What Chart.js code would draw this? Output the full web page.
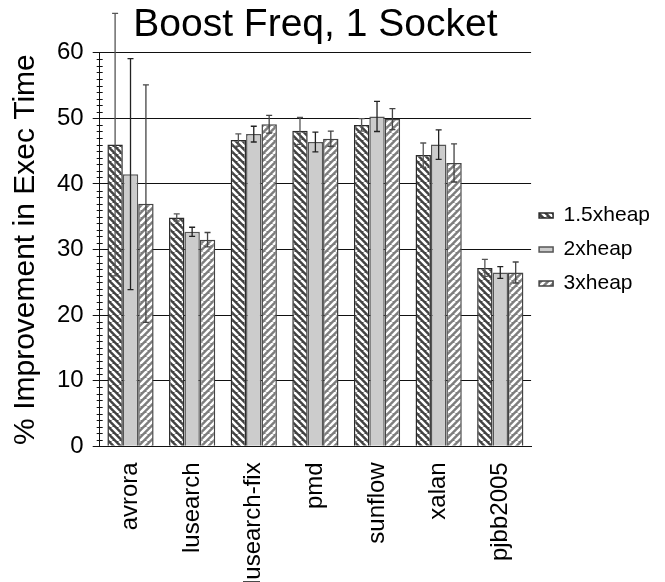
<!DOCTYPE html>
<html>
<head>
<meta charset="utf-8">
<script src="https://cdn.jsdelivr.net/npm/chart.js@4"></script>
<style>
  html, body { margin: 0; padding: 0; background: #fff; }
  #wrap { width: 665px; height: 582px; }
</style>
</head>
<body>
<div id="wrap"><canvas id="chart"></canvas></div>
<script>
// categorias y series
const benchmarks = ['avrora', 'lusearch', 'lusearch-fix', 'pmd', 'sunflow', 'xalan', 'pjbb2005'];
const seriesNames = ['1.5xheap', '2xheap', '3xheap'];

const heap15 = [46.0, 34.9, 46.7, 48.1, 49.0, 44.4, 27.2];
const heap2  = [41.5, 32.7, 47.6, 46.4, 50.3, 46.0, 26.5];
const heap3  = [37.0, 31.5, 49.1, 46.9, 49.9, 43.2, 26.5];

// errores (mitad del intervalo)
const err15 = [20.0, 0.55, 0.95, 2.05, 0.95, 1.85, 1.3];
const err2  = [17.6, 0.7, 1.2, 1.5, 2.3, 2.25, 0.9];
const err3  = [18.1, 1.1, 1.35, 1.15, 1.6, 2.9, 1.6];

const yTicks = [0, 10, 20, 30, 40, 50, 60];

const FONT = '"Liberation Sans", Arial, sans-serif';

// patron de rayas diagonales
function stripes(base, dir) {
    const s = 7;
    const c = document.createElement('canvas');
    c.width = s; c.height = s;
    const g = c.getContext('2d');
    g.fillStyle = base;
    g.fillRect(0, 0, s, s);
    g.strokeStyle = '#ffffff';
    g.lineWidth = 2.6;
    g.beginPath();
    for (const k of [-s, 0, s]) {
        if (dir === 'back') {
            g.moveTo(k, 0); g.lineTo(k + s, s);
        } else {
            g.moveTo(k, s); g.lineTo(k + s, 0);
        }
    }
    g.stroke();
    return g.createPattern(c, 'repeat');
}

const ctx = document.getElementById('chart').getContext('2d');
const fillA = stripes('#424242', 'back');
const fillC = stripes('#7e7e7e', 'fwd');

// barras de error
const errorBars = {
    id: 'errorBars',
    afterDatasetsDraw(chart) {
        const y = chart.scales.y;
        const c = chart.ctx;
        chart.data.datasets.forEach((ds, i) => {
            const meta = chart.getDatasetMeta(i);
            c.save();
            c.strokeStyle = ds.errorColor;
            c.lineWidth = 1.3;
            meta.data.forEach((bar, j) => {
                const v = ds.data[j], e = ds.errors[j];
                const top = y.getPixelForValue(v + e);
                const bot = y.getPixelForValue(v - e);
                c.beginPath();
                c.moveTo(bar.x, top); c.lineTo(bar.x, bot);
                c.moveTo(bar.x - 3, top); c.lineTo(bar.x + 3, top);
                c.moveTo(bar.x - 3, bot); c.lineTo(bar.x + 3, bot);
                c.stroke();
            });
            c.restore();
        });
    }
};

// marcas menores del eje y
const minorTicks = {
    id: 'minorTicks',
    afterDraw(chart) {
        const y = chart.scales.y;
        const c = chart.ctx;
        const x = chart.chartArea.left;
        c.save();
        c.strokeStyle = '#111';
        c.lineWidth = 1;
        c.beginPath();
        for (let v = y.min; v <= y.max; v++) {
            if (v % 10 === 0) continue;
            const py = Math.round(y.getPixelForValue(v)) + 0.5;
            c.moveTo(x - 3, py); c.lineTo(x + 3, py);
        }
        c.stroke();
        c.restore();
    }
};

// acercar la leyenda al grafico
const legendShift = {
    id: 'legendShift',
    afterLayout(chart) {
        if (chart.legend) chart.legend.left -= 5;
    }
};

new Chart(ctx, {
    type: 'bar',
    data: {
        labels: benchmarks,
        datasets: [
            { label: seriesNames[0], data: heap15, errors: err15, errorColor: '#555',
              backgroundColor: fillA, borderColor: '#2a2a2a', borderWidth: 1.5 },
            { label: seriesNames[1], data: heap2, errors: err2, errorColor: '#222',
              backgroundColor: '#cccccc', borderColor: '#555', borderWidth: 1.5 },
            { label: seriesNames[2], data: heap3, errors: err3, errorColor: '#444',
              backgroundColor: fillC, borderColor: '#444', borderWidth: 1.5 }
        ]
    },
    options: {
        responsive: true,
        maintainAspectRatio: false,
        animation: false,
        categoryPercentage: 0.75,
        barPercentage: 1.0,
        layout: { padding: { left: 8, right: 0, top: 0, bottom: -11 } },
        scales: {
            x: {
                grid: { display: false },
                border: { display: true, color: '#111', width: 1 },
                ticks: {
                    autoSkip: false, minRotation: 90, maxRotation: 90,
                    padding: 8, color: '#000', font: { family: FONT, size: 24 }
                }
            },
            y: {
                min: 0, max: 60, z: 1,
                afterBuildTicks(axis) { axis.ticks = yTicks.map(v => ({ value: v })); },
                grid: { color: '#111', lineWidth: 1, tickLength: 7, tickColor: '#111' },
                border: { display: true, color: '#111', width: 1 },
                ticks: { padding: 9, color: '#000', font: { family: FONT, size: 24 } },
                title: {
                    display: true, text: '% Improvement in Exec Time', color: '#000',
                    font: { family: FONT, size: 30 }, padding: { top: 0, bottom: 4 }
                }
            }
        },
        plugins: {
            title: {
                display: true, text: 'Boost Freq, 1 Socket', fullSize: false, color: '#000',
                font: { family: FONT, size: 39, weight: 'normal' },
                padding: { top: 2, bottom: 4 }
            },
            legend: {
                position: 'right',
                fullSize: false,
                labels: {
                    boxWidth: 14, boxHeight: 5, padding: 13, color: '#000',
                    font: { family: FONT, size: 21 }
                }
            },
            tooltip: { enabled: false }
        }
    },
    plugins: [errorBars, minorTicks, legendShift]
});
</script>
</body>
</html>
